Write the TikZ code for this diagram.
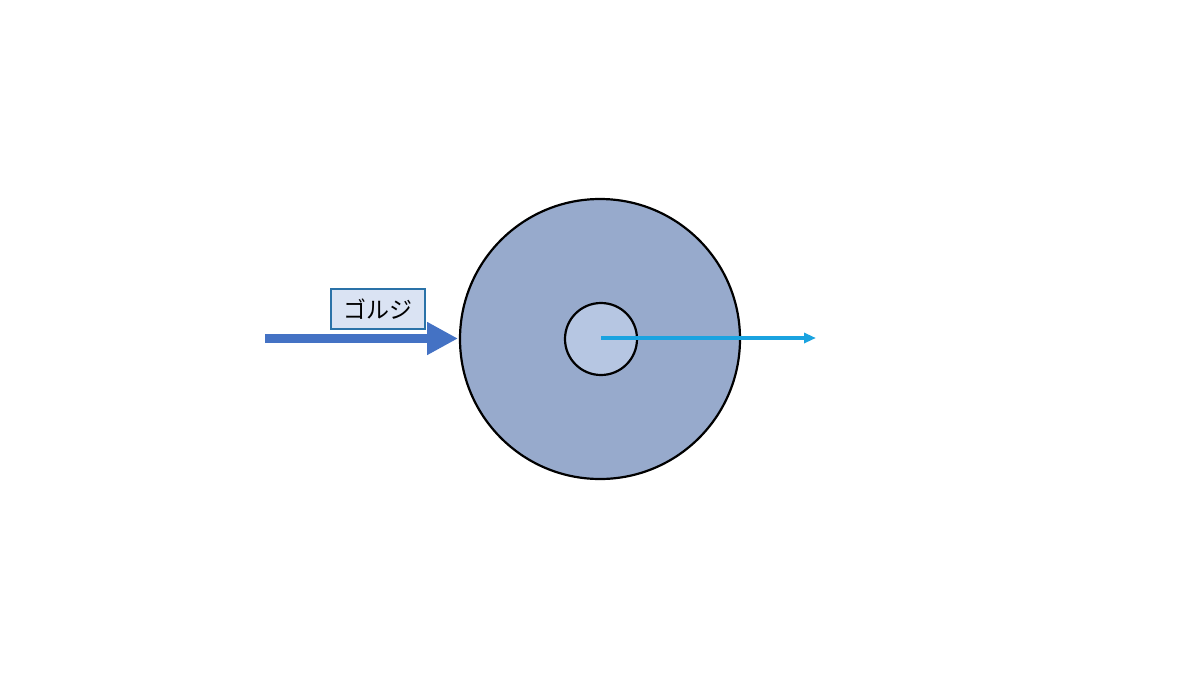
\documentclass[tikz,border=0pt]{standalone}
\usepackage{fontspec}
\newfontfamily\cjk{Noto Sans CJK JP}
\usetikzlibrary{arrows.meta}
\definecolor{outerfill}{HTML}{97AACC}
\definecolor{innerfill}{HTML}{B6C6E2}
\definecolor{bigarrow}{HTML}{4472C4}
\definecolor{thinarrow}{HTML}{1AA3E0}
\definecolor{labelfill}{HTML}{DAE3F3}
\definecolor{labeldraw}{HTML}{2A72A8}
\tikzset{
  ring/.style={circle, draw=black, line width=2.2pt, inner sep=0pt},
  labelbox/.style={draw=labeldraw, fill=labelfill, line width=1.2pt, minimum width=94pt, minimum height=40pt, inner sep=0pt, font=\cjk\fontsize{23pt}{26pt}\selectfont},
}
\begin{document}
\begin{tikzpicture}[x=1pt,y=-1pt]
\useasboundingbox (0,0) rectangle (1200,675);
\node[ring, fill=outerfill, minimum size=280pt] (cell) at (600,339) {};
\node[ring, fill=innerfill, minimum size=72pt] (core) at (601,339) {};
\coordinate (corec) at (601,338);
\coordinate (tail) at (265,338.5);
\coordinate (head) at (458,338.5);
\coordinate (out) at (816,338);
\draw[bigarrow, line width=9.5pt, -{Triangle[length=31pt,width=31pt]}] (tail) -- (head);
\draw[thinarrow, line width=3.2pt, -{Triangle[length=12pt,width=10pt]}] (corec) -- (out);
\node[labelbox] (lbl) at (378,309) {ゴルジ};
\end{tikzpicture}
\end{document}
